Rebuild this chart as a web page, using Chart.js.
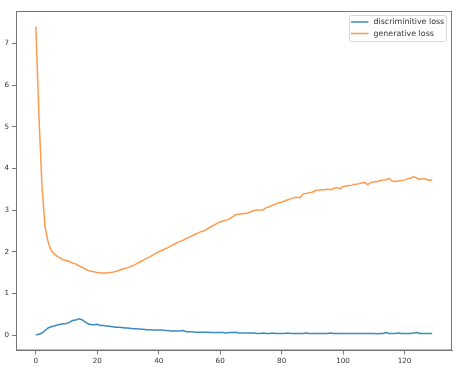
<!DOCTYPE html>
<html>
<head>
<meta charset="utf-8">
<script src="https://cdn.jsdelivr.net/npm/chart.js@4"></script>
<style>
  body { margin: 0; background: #fff; }
  canvas { display: block; }
</style>
</head>
<body>
<canvas id="chart-canvas_loss" width="462" height="368"></canvas>
<script>
// series labels
const seriesLabels = ["discriminitive loss", "generative loss"];

// tick labels
const xTicks = [0, 20, 40, 60, 80, 100, 120];
const yTicks = [0, 1, 2, 3, 4, 5, 6, 7];

// loss values per epoch
const discLoss = [
  0.01, 0.02, 0.05, 0.11, 0.17, 0.20, 0.22, 0.24, 0.26, 0.27,
  0.28, 0.31, 0.35, 0.36, 0.39, 0.37, 0.32, 0.27, 0.25, 0.25,
  0.26, 0.23, 0.23, 0.22, 0.21, 0.20, 0.19, 0.19, 0.18, 0.17,
  0.17, 0.16, 0.15, 0.15, 0.14, 0.14, 0.13, 0.13, 0.12, 0.12,
  0.12, 0.12, 0.11, 0.11, 0.10, 0.10, 0.10, 0.10, 0.11, 0.08,
  0.08, 0.08, 0.07, 0.07, 0.07, 0.07, 0.07, 0.06, 0.06, 0.06,
  0.06, 0.06, 0.05, 0.06, 0.06, 0.07, 0.05, 0.05, 0.05, 0.05,
  0.05, 0.05, 0.04, 0.04, 0.05, 0.04, 0.04, 0.05, 0.04, 0.04,
  0.04, 0.04, 0.05, 0.04, 0.04, 0.04, 0.04, 0.04, 0.05, 0.04,
  0.04, 0.04, 0.04, 0.04, 0.04, 0.04, 0.05, 0.04, 0.04, 0.04,
  0.04, 0.04, 0.04, 0.04, 0.04, 0.04, 0.04, 0.04, 0.04, 0.04,
  0.04, 0.03, 0.04, 0.04, 0.06, 0.04, 0.04, 0.04, 0.05, 0.04,
  0.04, 0.04, 0.04, 0.05, 0.06, 0.04, 0.04, 0.04, 0.04, 0.04
];

const genLoss = [
  7.41, 5.30, 3.58, 2.60, 2.24, 2.03, 1.95, 1.89, 1.85, 1.80,
  1.79, 1.76, 1.73, 1.71, 1.66, 1.63, 1.59, 1.55, 1.53, 1.52,
  1.50, 1.49, 1.49, 1.49, 1.50, 1.51, 1.53, 1.55, 1.58, 1.60,
  1.62, 1.65, 1.68, 1.72, 1.76, 1.80, 1.84, 1.87, 1.92, 1.96,
  2.00, 2.03, 2.07, 2.10, 2.14, 2.18, 2.22, 2.25, 2.28, 2.32,
  2.35, 2.39, 2.42, 2.46, 2.49, 2.51, 2.56, 2.60, 2.64, 2.68,
  2.72, 2.74, 2.76, 2.79, 2.84, 2.89, 2.90, 2.91, 2.92, 2.93,
  2.96, 2.99, 3.00, 3.00, 3.01, 3.06, 3.08, 3.12, 3.14, 3.18,
  3.19, 3.22, 3.25, 3.27, 3.30, 3.31, 3.30, 3.39, 3.40, 3.42,
  3.43, 3.47, 3.48, 3.49, 3.49, 3.50, 3.49, 3.52, 3.54, 3.51,
  3.57, 3.58, 3.59, 3.60, 3.62, 3.63, 3.65, 3.66, 3.61, 3.66,
  3.68, 3.68, 3.71, 3.72, 3.73, 3.76, 3.70, 3.69, 3.70, 3.71,
  3.72, 3.75, 3.77, 3.80, 3.77, 3.73, 3.76, 3.74, 3.71, 3.73
];

const epochs = discLoss.map((v, i) => i);

const colors = ["#3b8bc2", "#ff9a4d"];
const font = { family: "DejaVu Sans", size: 7.2 };

// frame + legend box, matplotlib style
const framePlugin = {
  id: "frame",
  afterDraw(chart) {
    const ctx = chart.ctx;
    const a = chart.chartArea;
    ctx.save();
    ctx.strokeStyle = "#777";
    ctx.lineWidth = 1;
    ctx.strokeRect(a.left + 0.5, a.top + 0.5, a.right - a.left - 1, a.bottom - a.top - 1);

    // legend
    const bx = 349.5, by = 15.5, bw = 97, bh = 26;
    ctx.fillStyle = "rgba(255,255,255,0.8)";
    ctx.strokeStyle = "#d8d8d8";
    ctx.beginPath();
    ctx.roundRect(bx, by, bw, bh, 2);
    ctx.fill();
    ctx.stroke();
    ctx.font = "7.9px 'DejaVu Sans'";
    ctx.textBaseline = "middle";
    chart.data.datasets.forEach((ds, i) => {
      const y = 22 + i * 11.5;
      ctx.strokeStyle = ds.borderColor;
      ctx.lineWidth = 1.5;
      ctx.beginPath();
      ctx.moveTo(351, y);
      ctx.lineTo(368.5, y);
      ctx.stroke();
      ctx.fillStyle = "#333";
      ctx.fillText(ds.label, 373.5, y);
    });
    ctx.restore();
  },
};

const ctx = document.getElementById("chart-canvas_loss").getContext("2d");
new Chart(ctx, {
  type: "line",
  data: {
    datasets: [
      {
        label: seriesLabels[0],
        data: epochs.map((e, i) => ({ x: e, y: discLoss[i] })),
        borderColor: colors[0],
        borderWidth: 1.5,
        pointRadius: 0,
        tension: 0,
        fill: false,
      },
      {
        label: seriesLabels[1],
        data: epochs.map((e, i) => ({ x: e, y: genLoss[i] })),
        borderColor: colors[1],
        borderWidth: 1.5,
        pointRadius: 0,
        tension: 0,
        fill: false,
      },
    ],
  },
  options: {
    responsive: false,
    animation: false,
    layout: { padding: { left: 0, top: 11, right: 10, bottom: 0 } },
    plugins: {
      legend: { display: false },
      tooltip: { enabled: false },
    },
    scales: {
      x: {
        type: "linear",
        min: -6.45,
        max: 135.45,
        afterBuildTicks: (axis) => {
          axis.ticks = xTicks.map((v) => ({ value: v }));
        },
        afterFit: (axis) => {
          axis.height = 17.5;
        },
        grid: { drawOnChartArea: false, drawTicks: true, tickLength: 4, color: "#777" },
        border: { display: true, color: "#777" },
        ticks: { font: font, color: "#333", padding: 2.5, maxRotation: 0 },
      },
      y: {
        type: "linear",
        min: -0.37,
        max: 7.78,
        afterBuildTicks: (axis) => {
          axis.ticks = yTicks.map((v) => ({ value: v }));
        },
        afterFit: (axis) => {
          axis.width = 16;
        },
        grid: { drawOnChartArea: false, drawTicks: true, tickLength: 4, color: "#777" },
        border: { display: true, color: "#777" },
        ticks: { font: font, color: "#333", padding: 3 },
      },
    },
  },
  plugins: [framePlugin],
});
</script>
</body>
</html>
